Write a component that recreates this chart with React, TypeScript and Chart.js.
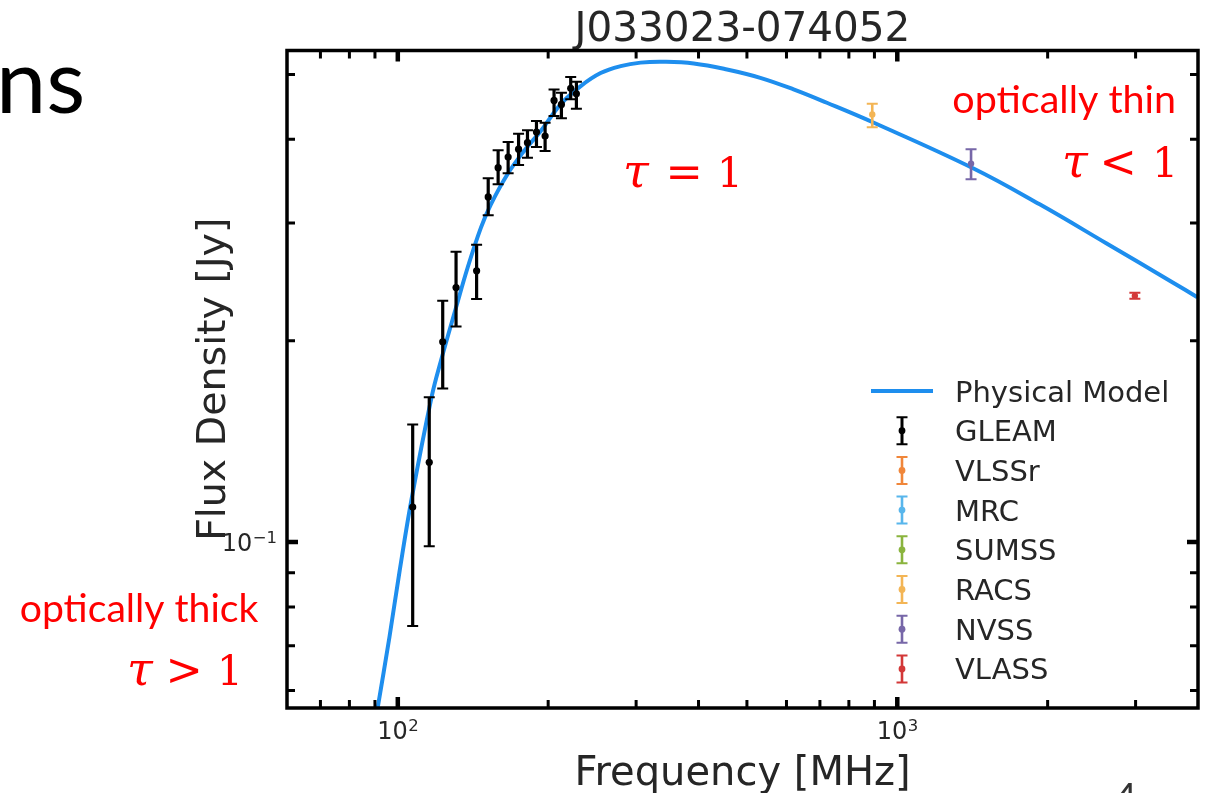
import React, { useEffect, useRef } from 'react';
import { Chart, registerables } from 'chart.js';

Chart.register(...registerables);

// ---------- texts ----------
const TITLE = 'J033023-074052';
const X_TITLE = 'Frequency [MHz]';
const Y_TITLE = 'Flux Density [Jy]';
const MODEL_LABEL = 'Physical Model';

// ---------- ticks ----------
const xMajorTicks = [100, 1000];
const xMajorExponents = ['2', '3'];
const xMinorTicks = [70, 80, 90, 200, 300, 400, 500, 600, 700, 800, 900, 2000, 3000];
const yMajorTicks = [0.1];
const yMajorExponents = ['−1'];
const yMinorTicks = [0.06, 0.07, 0.08, 0.09, 0.2, 0.3, 0.4, 0.5];

// ---------- model curve ----------
const modelFreq = [91.2, 96.21, 100.74, 106.7, 116.9, 122.0, 130.8, 138.0, 146.7, 153.6, 165.8, 179.0, 193.3, 212.0, 232.4, 254.7, 279.3, 306.2, 340.9, 391.3, 456.2, 531.8, 619.9, 722.8, 895.5, 1418, 1928, 2620, 3560, 3988];
const modelFlux = [0.0567, 0.07208, 0.09011, 0.11661, 0.16499, 0.1867, 0.2242, 0.2573, 0.2952, 0.3198, 0.3547, 0.3843, 0.4116, 0.4516, 0.4804, 0.5024, 0.5146, 0.5208, 0.5223, 0.5194, 0.5087, 0.4943, 0.4750, 0.4536, 0.4238, 0.3621, 0.3198, 0.2797, 0.2444, 0.2323];

// ---------- surveys ----------
const surveyNames = ['GLEAM', 'VLSSr', 'MRC', 'SUMSS', 'RACS', 'NVSS', 'VLASS'];
const surveyColors = ['#000000', '#f0863a', '#58b6ec', '#8ab43e', '#f3b555', '#7767a8', '#d33838'];

const gleamFreq = [107.1, 115.6, 123.0, 130.8, 143.8, 151.7, 158.8, 166.3, 174.5, 181.8, 189.5, 197.2, 205.5, 212.6, 221.9, 227.8];
const gleamFlux = [0.1128, 0.1316, 0.1993, 0.2402, 0.2544, 0.3281, 0.3628, 0.3764, 0.3866, 0.3954, 0.4102, 0.4046, 0.4573, 0.4510, 0.4767, 0.4679];
const gleamLow = [0.0749, 0.0986, 0.1696, 0.2101, 0.2308, 0.3081, 0.3426, 0.3558, 0.3662, 0.3755, 0.3896, 0.3843, 0.4334, 0.4299, 0.4590, 0.4444];
const gleamHigh = [0.1499, 0.1646, 0.2294, 0.2716, 0.2782, 0.3499, 0.3852, 0.3963, 0.4077, 0.4125, 0.4259, 0.4235, 0.4750, 0.4694, 0.4956, 0.4877];

const vlssrFreq: number[] = [];
const vlssrFlux: number[] = [];
const mrcFreq: number[] = [];
const mrcFlux: number[] = [];
const sumssFreq: number[] = [];
const sumssFlux: number[] = [];

const racsFreq = [891];
const racsFlux = [0.4358];
const racsLow = [0.4171];
const racsHigh = [0.4519];

const nvssFreq = [1405];
const nvssFlux = [0.3679];
const nvssLow = [0.3485];
const nvssHigh = [0.3866];

const vlassFreq = [2990];
const vlassFlux = [0.2334];
const vlassLow = [0.2310];
const vlassHigh = [0.2358];

// ---------- style ----------
const FONT = "'DejaVu Sans', sans-serif";
const TEXT_COLOR = '#262626';
const MODEL_COLOR = '#1e8eee';
const RED = '#ff0000';

const pts = (xs: number[], ys: number[]) => xs.map((x, i) => ({ x, y: ys[i] }));

function surveyDataset(i: number, xs: number[], ys: number[], lo: number[], hi: number[]) {
  return {
    label: surveyNames[i],
    data: pts(xs, ys),
    backgroundColor: surveyColors[i],
    borderColor: surveyColors[i],
    borderWidth: 0,
    pointRadius: i === 0 ? 3.6 : 3.2,
    showLine: false,
    order: 0,
    errorBars: { low: lo, high: hi, width: i === 0 ? 3.2 : 2.6 },
  } as any;
}

function drawFitted(ctx: CanvasRenderingContext2D, text: string, family: string, left: number, right: number, baseline: number, color: string) {
  ctx.font = `100px ${family}`;
  let m = ctx.measureText(text);
  const ink = m.actualBoundingBoxLeft + m.actualBoundingBoxRight;
  const size = (100 * (right - left)) / ink;
  ctx.font = `${size}px ${family}`;
  m = ctx.measureText(text);
  ctx.fillStyle = color;
  ctx.textAlign = 'left';
  ctx.textBaseline = 'alphabetic';
  ctx.fillText(text, left + m.actualBoundingBoxLeft, baseline);
}

// math annotation: italic tau, relation sign and "1"
function drawTauText(ctx: CanvasRenderingContext2D, op: string, tauLeft: number, opCenter: number, oneRight: number, baseline: number) {
  const serif = "'DejaVu Serif', 'Liberation Serif', serif";
  ctx.font = `100px ${serif}`;
  const d = ctx.measureText('1');
  const size = (100 * 30) / d.actualBoundingBoxAscent;
  ctx.fillStyle = RED;
  ctx.textBaseline = 'alphabetic';
  ctx.textAlign = 'left';
  ctx.font = `italic ${size * 1.15}px ${serif}`;
  const t = ctx.measureText('τ');
  ctx.fillText('τ', tauLeft + t.actualBoundingBoxLeft, baseline);
  ctx.font = `${size}px ${serif}`;
  const o = ctx.measureText('1');
  ctx.fillText('1', oneRight - o.actualBoundingBoxRight, baseline);
  ctx.font = `${size * 1.1}px ${serif}`;
  const m = ctx.measureText(op);
  const inkW = m.actualBoundingBoxLeft + m.actualBoundingBoxRight;
  ctx.fillText(op, opCenter - inkW / 2 + m.actualBoundingBoxLeft, baseline);
}

// "10" with a raised exponent, like matplotlib mathtext
function powerWidth(ctx: CanvasRenderingContext2D, exp: string) {
  ctx.font = `24px ${FONT}`;
  const b = ctx.measureText('10').width;
  ctx.font = `16.5px ${FONT}`;
  const e = ctx.measureText(exp).width;
  return { b, e };
}
function drawPower(ctx: CanvasRenderingContext2D, exp: string, left: number, baseline: number) {
  const { b } = powerWidth(ctx, exp);
  ctx.fillStyle = TEXT_COLOR;
  ctx.textAlign = 'left';
  ctx.textBaseline = 'alphabetic';
  ctx.font = `24px ${FONT}`;
  ctx.fillText('10', left, baseline);
  ctx.font = `16.5px ${FONT}`;
  ctx.fillText(exp, left + b + 0.5, baseline - 8.5);
}

const errorBarPlugin = {
  id: 'errorBars',
  afterDatasetDraw(chart: any, args: any) {
    if (args.index !== 0) return;
    const { ctx, chartArea: a } = chart;
    const x = chart.scales.x;
    const y = chart.scales.y;
    ctx.save();
    ctx.beginPath();
    ctx.rect(a.left, a.top, a.right - a.left, a.bottom - a.top);
    ctx.clip();
    chart.data.datasets.forEach((ds: any) => {
      const e = ds.errorBars;
      if (!e) return;
      ds.data.forEach((p: any, i: number) => {
        const px = x.getPixelForValue(p.x);
        const lo = y.getPixelForValue(e.low[i]);
        const hi = y.getPixelForValue(e.high[i]);
        ctx.strokeStyle = ds.backgroundColor;
        ctx.lineCap = 'butt';
        ctx.lineWidth = e.width;
        ctx.beginPath();
        ctx.moveTo(px, lo);
        ctx.lineTo(px, hi);
        ctx.stroke();
        ctx.lineWidth = 2;
        ctx.beginPath();
        ctx.moveTo(px - 5.5, lo);
        ctx.lineTo(px + 5.5, lo);
        ctx.moveTo(px - 5.5, hi);
        ctx.lineTo(px + 5.5, hi);
        ctx.stroke();
      });
    });
    ctx.restore();
  },
};

const decorPlugin = {
  id: 'decor',
  afterDraw(chart: any) {
    const { ctx, chartArea: a } = chart;
    const x = chart.scales.x;
    const y = chart.scales.y;
    ctx.save();
    ctx.strokeStyle = '#000';
    ctx.lineCap = 'butt';
    const xt = (vals: number[], len: number, w: number) => {
      ctx.lineWidth = w;
      vals.forEach((v) => {
        const px = x.getPixelForValue(v);
        ctx.beginPath();
        ctx.moveTo(px, a.bottom);
        ctx.lineTo(px, a.bottom - len);
        ctx.moveTo(px, a.top);
        ctx.lineTo(px, a.top + len);
        ctx.stroke();
      });
    };
    const yt = (vals: number[], len: number, w: number) => {
      ctx.lineWidth = w;
      vals.forEach((v) => {
        const py = y.getPixelForValue(v);
        ctx.beginPath();
        ctx.moveTo(a.left, py);
        ctx.lineTo(a.left + len, py);
        ctx.moveTo(a.right, py);
        ctx.lineTo(a.right - len, py);
        ctx.stroke();
      });
    };
    xt(xMajorTicks, 11, 4.5);
    xt(xMinorTicks, 8, 3);
    yt(yMajorTicks, 11, 4.5);
    yt(yMinorTicks, 8, 3);
    ctx.lineWidth = 3.5;
    ctx.strokeRect(a.left, a.top, a.right - a.left, a.bottom - a.top);

    // major tick labels (10^n)
    xMajorTicks.forEach((v, i) => {
      const px = x.getPixelForValue(v);
      const { b, e } = powerWidth(ctx, xMajorExponents[i]);
      drawPower(ctx, xMajorExponents[i], px - (b + e) / 2, a.bottom + 31.3);
    });
    yMajorTicks.forEach((v, i) => {
      const py = y.getPixelForValue(v);
      const { b, e } = powerWidth(ctx, yMajorExponents[i]);
      drawPower(ctx, yMajorExponents[i], a.left - 10 - (b + e + 0.5), py + 9);
    });

    // legend
    const rowY0 = 391;
    const step = 39.7;
    const handleX = 902;
    const textX = 955;
    ctx.font = `29px ${FONT}`;
    ctx.textAlign = 'left';
    ctx.textBaseline = 'alphabetic';
    chart.data.datasets.forEach((ds: any, i: number) => {
      const cy = rowY0 + step * i;
      if (ds.showLine) {
        ctx.strokeStyle = ds.borderColor;
        ctx.lineWidth = 4;
        ctx.beginPath();
        ctx.moveTo(871, cy);
        ctx.lineTo(933, cy);
        ctx.stroke();
      } else {
        ctx.strokeStyle = ds.backgroundColor;
        ctx.lineWidth = i === 1 ? 3 : 2.6;
        ctx.beginPath();
        ctx.moveTo(handleX, cy - 13.5);
        ctx.lineTo(handleX, cy + 13.5);
        ctx.stroke();
        ctx.lineWidth = 2;
        ctx.beginPath();
        ctx.moveTo(handleX - 5.5, cy - 13.5);
        ctx.lineTo(handleX + 5.5, cy - 13.5);
        ctx.moveTo(handleX - 5.5, cy + 13.5);
        ctx.lineTo(handleX + 5.5, cy + 13.5);
        ctx.stroke();
        ctx.fillStyle = ds.backgroundColor;
        ctx.beginPath();
        ctx.arc(handleX, cy, 3.4, 0, Math.PI * 2);
        ctx.fill();
      }
      ctx.fillStyle = TEXT_COLOR;
      ctx.fillText(ds.label, textX, cy + 10.5);
    });

    // slide annotations
    const sans = "Lato, 'Open Sans', sans-serif";
    drawFitted(ctx, 'optically thick', sans, 20.7, 258, 621.7, RED);
    drawFitted(ctx, 'optically thin', sans, 953.3, 1173.3, 113.3, RED);
    drawFitted(ctx, 'ns', sans, 2, 82, 113, '#000');
    ctx.font = `40px ${sans}`;
    ctx.fillStyle = '#333';
    ctx.fillText('4', 1114, 812);

    drawTauText(ctx, '>', 130, 184, 238, 685);
    drawTauText(ctx, '<', 1065, 1118, 1173.3, 177.3);
    drawTauText(ctx, '=', 626, 684, 738, 187);
    ctx.restore();
  },
};

export default function App() {
  const ref = useRef<HTMLCanvasElement>(null);
  useEffect(() => {
    document.body.style.margin = '0';
    const canvas = ref.current!;
    const datasets: any[] = [
      {
        label: MODEL_LABEL,
        data: pts(modelFreq, modelFlux),
        showLine: true,
        borderColor: MODEL_COLOR,
        backgroundColor: MODEL_COLOR,
        borderWidth: 4,
        pointRadius: 0,
        tension: 0.4,
        order: 1,
      },
      surveyDataset(0, gleamFreq, gleamFlux, gleamLow, gleamHigh),
      surveyDataset(1, vlssrFreq, vlssrFlux, [], []),
      surveyDataset(2, mrcFreq, mrcFlux, [], []),
      surveyDataset(3, sumssFreq, sumssFlux, [], []),
      surveyDataset(4, racsFreq, racsFlux, racsLow, racsHigh),
      surveyDataset(5, nvssFreq, nvssFlux, nvssLow, nvssHigh),
      surveyDataset(6, vlassFreq, vlassFlux, vlassLow, vlassHigh),
    ];
    const chart = new Chart(canvas, {
      type: 'scatter',
      data: { datasets },
      plugins: [errorBarPlugin, decorPlugin],
      options: {
        animation: false,
        responsive: true,
        maintainAspectRatio: false,
        events: [],
        layout: { padding: { left: 0, right: 9, top: 0, bottom: 0 } },
        plugins: {
          legend: { display: false },
          tooltip: { enabled: false },
          title: {
            display: true,
            text: TITLE,
            fullSize: false,
            color: TEXT_COLOR,
            font: { family: FONT, size: 40.5, lineHeight: 1, weight: 'normal' },
            padding: { top: 10, bottom: 0 },
          },
        },
        scales: {
          x: {
            type: 'logarithmic',
            position: 'bottom',
            min: 60,
            max: 4000,
            afterBuildTicks: (s: any) => {
              s.ticks = xMajorTicks.map((v) => ({ value: v }));
            },
            afterFit: (s: any) => {
              s.height = 85;
            },
            ticks: { display: false },
            grid: { display: false, drawTicks: false },
            border: { display: false },
            title: {
              display: true,
              text: X_TITLE,
              color: TEXT_COLOR,
              font: { family: FONT, size: 40, lineHeight: 1 },
              padding: { top: 0, bottom: -2 },
            },
          },
          y: {
            type: 'logarithmic',
            position: 'left',
            min: 0.0565,
            max: 0.543,
            afterBuildTicks: (s: any) => {
              s.ticks = yMajorTicks.map((v) => ({ value: v }));
            },
            afterFit: (s: any) => {
              s.width = 287;
            },
            ticks: { display: false },
            grid: { display: false, drawTicks: false },
            border: { display: false },
            title: {
              display: true,
              text: Y_TITLE,
              color: TEXT_COLOR,
              font: { family: FONT, size: 39.5, lineHeight: 1 },
              padding: { top: 195, bottom: 0 },
            },
          },
        },
      } as any,
    });
    return () => chart.destroy();
  }, []);
  return (
    <div style={{ position: 'fixed', left: 0, top: 0, width: 1207, height: 793, background: '#fff' }}>
      <canvas ref={ref} />
    </div>
  );
}
